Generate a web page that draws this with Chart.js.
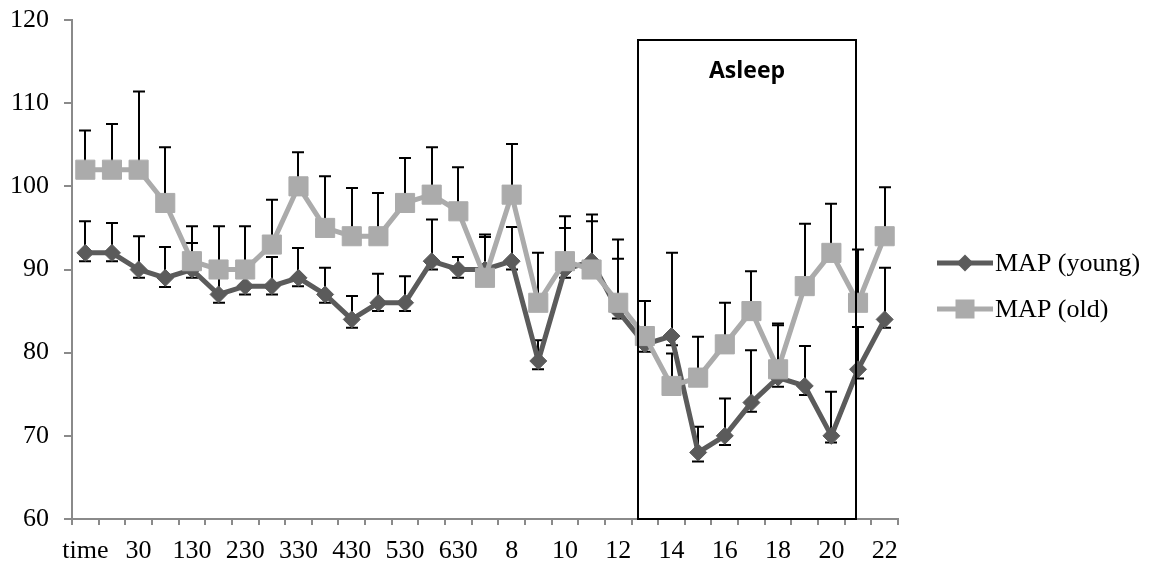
<!DOCTYPE html>
<html>
<head>
<meta charset="utf-8">
<script src="https://cdn.jsdelivr.net/npm/chart.js@4.4.1/dist/chart.umd.min.js"></script>
<style>
  html, body { margin: 0; padding: 0; background: #ffffff; }
  #wrap { width: 1153px; height: 567px; position: relative; }
</style>
</head>
<body>
<div id="wrap"><canvas id="c"></canvas></div>
<script>
// Measurement times (every other one is labelled on the axis)
const categories = ['time', '0', '30', '100', '130', '200', '230', '300', '330', '400', '430',
  '500', '530', '600', '630', '7', '8', '9', '10', '11', '12', '13', '14', '15', '16', '17',
  '18', '19', '20', '21', '22'];

// Mean arterial pressure, mmHg
const mapYoung = [92, 92, 90, 89, 90, 87, 88, 88, 89, 87, 84, 86, 86, 91, 90, 90, 91, 79, 90, 91,
  85, 81, 82, 68, 70, 74, 77, 76, 70, 78, 84];
const mapOld = [102, 102, 102, 98, 91, 90, 90, 93, 100, 95, 94, 94, 98, 99, 97, 89, 99, 86, 91, 90,
  86, 82, 76, 77, 81, 85, 78, 88, 92, 86, 94];

// Error bar lengths (upper and lower)
const errYoungUp = [3.8, 3.6, 4.0, 3.7, 3.2, 2.9, 2.5, 3.5, 3.6, 3.2, 2.8, 3.5, 3.2, 5.0, 1.5, 3.9,
  4.1, 2.5, 5.0, 4.8, 6.3, 1.5, 10.0, 3.1, 4.5, 6.3, 6.3, 4.8, 5.3, 5.1, 6.2];
const errYoungDown = [1.0, 1.0, 1.0, 1.1, 1.0, 1.0, 1.0, 1.0, 1.0, 1.0, 1.0, 1.0, 1.0, 1.0, 1.0, 1.0,
  1.0, 1.0, 1.0, 1.0, 0.9, 0.9, 1.1, 1.1, 1.1, 1.1, 1.1, 1.1, 0.8, 1.1, 1.0];
const errOldUp = [4.7, 5.5, 9.4, 6.7, 4.2, 5.2, 5.2, 5.4, 4.1, 6.2, 5.8, 5.2, 5.4, 5.7, 5.3, 5.2,
  6.1, 6.0, 5.4, 6.6, 7.6, 4.2, 3.9, 4.9, 5.0, 4.8, 5.5, 7.5, 5.9, 6.4, 5.9];

// Value axis
const yMin = 60, yMax = 120, yStep = 10;

// Sleep period marker (in category index / value units)
const asleepLabel = 'Asleep';
const asleepFrom = 20.74, asleepTo = 28.92, asleepTop = 117.6;

const serif = '"Liberation Serif", "Times New Roman", serif';
const axisGray = '#8a8a8a';
const youngColor = '#5b5b5b';
const oldColor = '#ababab';

const errorBars = {
  id: 'errorBars',
  beforeDatasetsDraw(chart) {
    const { ctx, scales: { x, y } } = chart;
    const sets = [
      { vals: mapYoung, up: errYoungUp, down: errYoungDown },
      { vals: mapOld, up: errOldUp, down: null }
    ];
    ctx.save();
    ctx.strokeStyle = '#000000';
    ctx.lineWidth = 2;
    const cap = 6;
    sets.forEach(s => {
      s.vals.forEach((v, i) => {
        const px = Math.round(x.getPixelForValue(i));
        const py = y.getPixelForValue(v);
        const top = y.getPixelForValue(v + s.up[i]);
        ctx.beginPath();
        ctx.moveTo(px, py); ctx.lineTo(px, top);
        ctx.moveTo(px - cap, top); ctx.lineTo(px + cap, top);
        if (s.down) {
          const bot = y.getPixelForValue(v - s.down[i]);
          ctx.moveTo(px, py); ctx.lineTo(px, bot);
          ctx.moveTo(px - cap, bot); ctx.lineTo(px + cap, bot);
        }
        ctx.stroke();
      });
    });
    ctx.restore();
  }
};

const asleepBox = {
  id: 'asleepBox',
  afterDatasetsDraw(chart) {
    const { ctx, scales: { x, y } } = chart;
    const l = Math.round(x.getPixelForValue(asleepFrom));
    const r = Math.round(x.getPixelForValue(asleepTo));
    const t = Math.round(y.getPixelForValue(asleepTop));
    const b = Math.round(y.getPixelForValue(yMin));
    ctx.save();
    ctx.strokeStyle = '#000000';
    ctx.lineWidth = 2;
    ctx.strokeRect(l, t, r - l, b - t);
    ctx.fillStyle = '#000000';
    ctx.font = 'bold 23px "Open Sans", "Liberation Sans", sans-serif';
    ctx.textAlign = 'center';
    ctx.textBaseline = 'alphabetic';
    ctx.fillText(asleepLabel, (l + r) / 2, t + 38);
    ctx.restore();
  }
};

const sideLegend = {
  id: 'sideLegend',
  afterDraw(chart) {
    const { ctx } = chart;
    const rows = [263, 309];
    ctx.save();
    chart.data.datasets.forEach((ds, i) => {
      const yy = rows[i];
      ctx.strokeStyle = ds.borderColor;
      ctx.lineWidth = ds.borderWidth;
      ctx.beginPath();
      ctx.moveTo(937, yy); ctx.lineTo(993, yy);
      ctx.stroke();
      ctx.fillStyle = ds.pointBackgroundColor;
      ctx.beginPath();
      if (ds.pointStyle === 'rectRot') {
        const r = 8.5;
        ctx.moveTo(965, yy - r); ctx.lineTo(965 + r, yy); ctx.lineTo(965, yy + r); ctx.lineTo(965 - r, yy);
        ctx.closePath();
      } else {
        const h = 9.5;
        ctx.rect(965 - h, yy - h, 2 * h, 2 * h);
      }
      ctx.fill();
      ctx.fillStyle = '#000000';
      ctx.font = '26px ' + serif;
      ctx.textAlign = 'left';
      ctx.textBaseline = 'middle';
      ctx.fillText(ds.label, 995, yy + 1);
    });
    ctx.restore();
  }
};

new Chart(document.getElementById('c'), {
  type: 'line',
  data: {
    labels: categories,
    datasets: [
      {
        label: 'MAP (young)',
        data: mapYoung,
        borderColor: youngColor,
        backgroundColor: youngColor,
        borderWidth: 5,
        pointStyle: 'rectRot',
        pointRadius: 8.5,
        pointBackgroundColor: youngColor,
        pointBorderColor: youngColor,
        pointBorderWidth: 1,
        tension: 0,
        order: 1
      },
      {
        label: 'MAP (old)',
        data: mapOld,
        borderColor: oldColor,
        backgroundColor: oldColor,
        borderWidth: 5,
        pointStyle: 'rect',
        pointRadius: 13.5,
        pointBackgroundColor: oldColor,
        pointBorderColor: oldColor,
        pointBorderWidth: 1,
        tension: 0,
        order: 0
      }
    ]
  },
  options: {
    responsive: true,
    maintainAspectRatio: false,
    devicePixelRatio: 1,
    animation: false,
    events: [],
    layout: { padding: { top: 20, right: 255, left: 0, bottom: 0 } },
    plugins: { legend: { display: false }, tooltip: { enabled: false } },
    scales: {
      x: {
        offset: true,
        afterFit(s) { s.height = 48; s.paddingLeft = 0; s.paddingRight = 0; },
        grid: { display: true, offset: true, drawOnChartArea: false, drawTicks: true, tickLength: 6, color: axisGray, lineWidth: 2 },
        border: { display: true, color: axisGray, width: 2 },
        ticks: {
          autoSkip: false, maxRotation: 0, minRotation: 0, padding: 11,
          color: '#000000', font: { family: serif, size: 26 },
          callback(v, i) { return i % 2 === 0 ? categories[i] : ''; }
        }
      },
      y: {
        min: yMin, max: yMax,
        afterFit(s) { s.width = 72; s.paddingTop = 0; s.paddingBottom = 0; },
        grid: { display: true, drawOnChartArea: false, drawTicks: true, tickLength: 8, color: axisGray, lineWidth: 2 },
        border: { display: true, color: axisGray, width: 2 },
        ticks: { stepSize: yStep, padding: 15, color: '#000000', font: { family: serif, size: 26 } }
      }
    }
  },
  plugins: [errorBars, asleepBox, sideLegend]
});
</script>
</body>
</html>
